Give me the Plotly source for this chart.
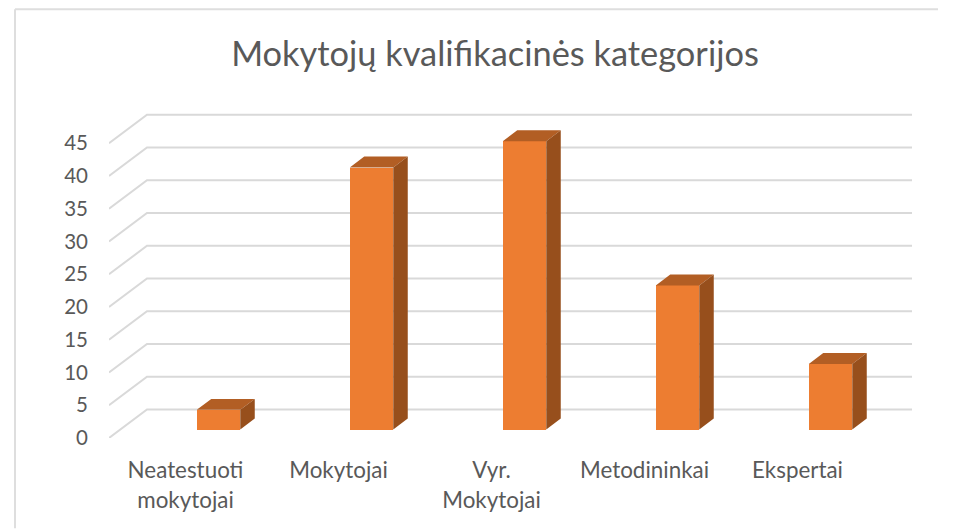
import plotly.graph_objects as go

categories = ["Neatestuoti<br>mokytojai", "Mokytojai", "Vyr.<br>Mokytojai", "Metodininkai", "Ekspertai"]
values = [3, 40, 44, 22, 10]
y_ticks = [0, 5, 10, 15, 20, 25, 30, 35, 40, 45]
title = "Mokytojų kvalifikacinės kategorijos"

OFF = 8  # the page body's margin
W, H = 954 - OFF, 529 - OFF
L, R, T, B = 109 - OFF, 912 - OFF, 100 - OFF, 438.5 - OFF
X_PER = 153.0
Y_PER = 6.56
x_min = -0.5
x_max = x_min + (R - L) / X_PER
y_max = (B - T) / Y_PER

wall_dx = 38 / X_PER
wall_dy = 28.5 / Y_PER
bar_offset = 33 / X_PER
bar_w = 43.5 / X_PER
bar_base = 8.5 / Y_PER
bar_dx = 14.5 / X_PER
bar_dy = 11 / Y_PER

INK = "#595959"
GRID = "#d9d9d9"
FRONT = "#ed7d31"
TOP = "#b25e24"
SIDE = "#974f1c"
FONT = "Lato, sans-serif"

centers = [i + bar_offset for i in range(len(values))]

fig = go.Figure()
fig.add_bar(x=centers, y=values, base=bar_base, width=bar_w,
            marker=dict(color=FRONT, line=dict(width=0)), showlegend=False)

tx, ty, sx, sy = [], [], [], []
for c, v in zip(centers, values):
    l, r = c - bar_w / 2, c + bar_w / 2
    top = bar_base + v
    tx += [l, l + bar_dx, r + bar_dx, r, l, None]
    ty += [top, top + bar_dy, top + bar_dy, top, top, None]
    sx += [r, r + bar_dx, r + bar_dx, r, r, None]
    sy += [top, top + bar_dy, bar_base + bar_dy, bar_base, top, None]
for xs, ys, col in ((tx, ty, TOP), (sx, sy, SIDE)):
    fig.add_scatter(x=xs, y=ys, mode="lines", fill="toself", fillcolor=col,
                    line=dict(width=0, color=col), showlegend=False, hoverinfo="skip")

shapes = []
for v in y_ticks:
    path = (f"M {x_min} {v} L {x_min + wall_dx} {v + wall_dy} "
            f"L {x_max} {v + wall_dy}")
    shapes.append(dict(type="path", path=path, xref="x", yref="y", layer="below",
                       line=dict(color=GRID, width=2)))
# outer chart border
for x0, y0, x1, y1 in ((15 - OFF, 9 - OFF, 938 - OFF, 9 - OFF), (15 - OFF, 9 - OFF, 15 - OFF, H)):
    shapes.append(dict(type="line", xref="paper", yref="paper",
                       x0=(x0 - L) / (R - L), x1=(x1 - L) / (R - L),
                       y0=(B - y0) / (B - T), y1=(B - y1) / (B - T),
                       line=dict(color="#dedede", width=2)))

fig.update_layout(
    width=W, height=H, autosize=False,
    margin=dict(l=L, r=W - R, t=T, b=H - B, pad=0),
    paper_bgcolor="white", plot_bgcolor="white",
    font=dict(family=FONT, color=INK, size=20),
    title=dict(text=title, x=(495 - OFF) / W, y=1 - (54 - OFF) / H, xanchor="center", yanchor="middle",
               font=dict(size=34.4, color=INK, family=FONT)),
    shapes=shapes, showlegend=False, bargap=0,
    xaxis=dict(range=[x_min, x_max], tickmode="array", tickvals=list(range(len(categories))),
               ticktext=categories, showgrid=False, zeroline=False, showline=False,
               ticks="", ticklabelstandoff=17, tickangle=0, tickfont=dict(size=22.4, color=INK)),
    yaxis=dict(range=[0, y_max], tickmode="array", tickvals=y_ticks, showgrid=False,
               zeroline=False, showline=False, ticks="", ticklabelstandoff=20,
               tickfont=dict(size=20.5, color=INK)),
)
fig.write_html("out.html")
